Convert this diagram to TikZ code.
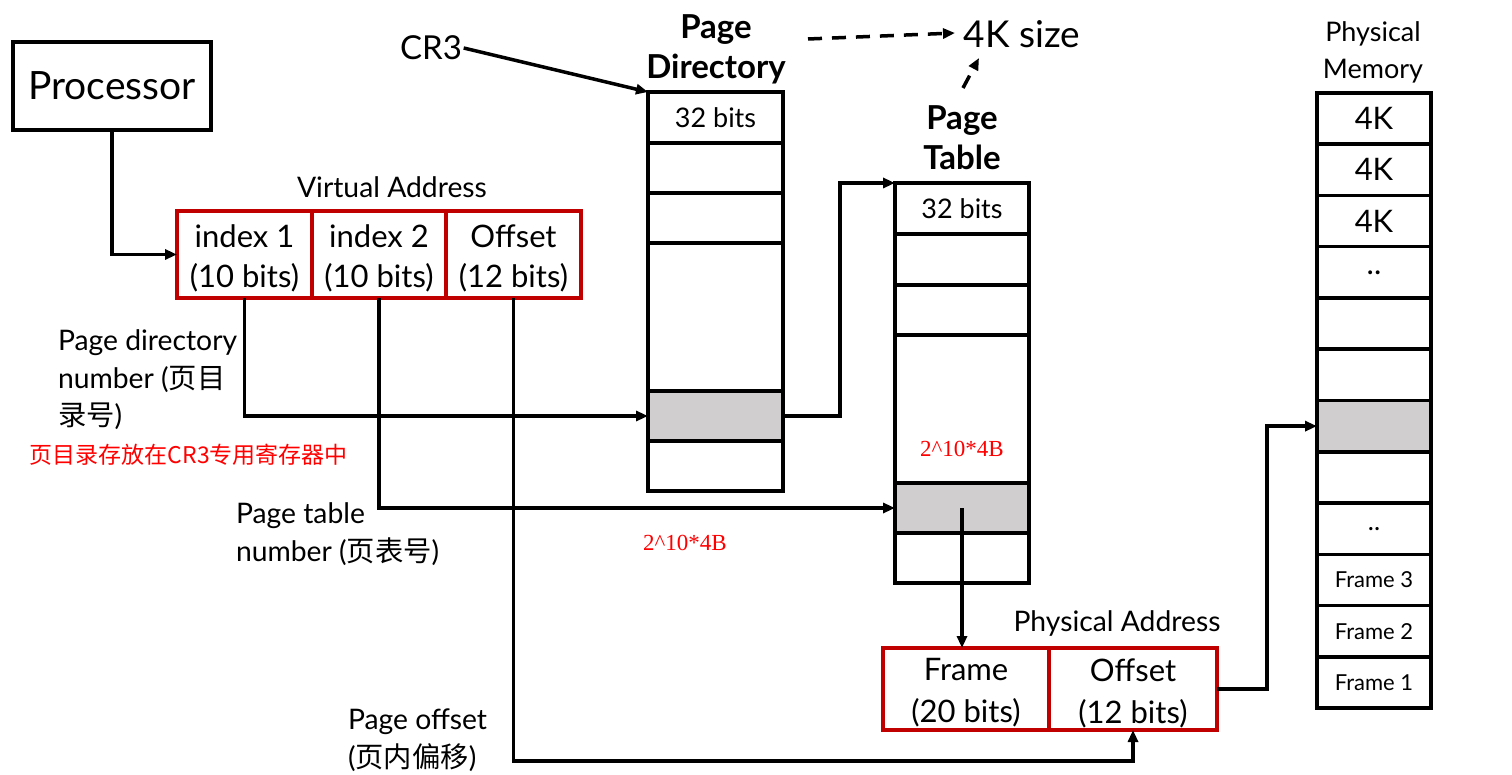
\documentclass[tikz,border=0pt]{standalone}
\usepackage{fontspec}
\setmainfont{Lato}
\newfontfamily\cjk{Noto Sans CJK SC}
\newfontfamily\serifred{Liberation Serif}
\usetikzlibrary{arrows.meta}
\definecolor{boxred}{RGB}{192,0,0}
\definecolor{cellgray}{RGB}{208,206,206}
\definecolor{notered}{RGB}{255,0,0}
\begin{document}
\begin{tikzpicture}[x=1pt,y=-1pt,
  line width=3.5pt,
  arr/.style={-{Triangle[length=12pt,width=10pt]}, line width=3.5pt},
  dasharr/.style={arr, dash pattern=on 14pt off 10pt},
  cell/.style={draw, line width=3.5pt, anchor=north west, inner sep=0pt, outer sep=0pt},
  pdcell/.style={cell, minimum width=135pt, font=\fontsize{27}{30}\selectfont},
  ptcell/.style={cell, minimum width=134pt, font=\fontsize{27}{30}\selectfont},
  pmcell/.style={cell, minimum width=114pt, minimum height=51.25pt, font=\fontsize{31}{34}\selectfont},
  frm/.style={font=\fontsize{22}{26}\selectfont},
  addr/.style={cell, draw=boxred, minimum height=87pt},
  addrtext/.style={inner sep=0pt, align=center, yshift=-4pt, font=\fontsize{31}{40}\selectfont},
  grayfill/.style={fill=cellgray},
  lbl/.style={inner sep=0pt, outer sep=0pt, font=\fontsize{28.3}{37.5}\selectfont},
  title/.style={inner sep=0pt, align=center, font=\bfseries\fontsize{33}{40}\selectfont},
  rednote/.style={inner sep=0pt, text=notered},
]
\useasboundingbox (0,0) rectangle (1512,775);

% Processor
\node[draw, line width=3.5pt, minimum width=198pt, minimum height=88pt, inner sep=0pt, outer sep=0pt,
  font=\fontsize{39}{42}\selectfont] (proc) at (112,86) {\raisebox{-2pt}{Processor}};

% Virtual address
\node[lbl] (vatitle) at (392,187) {Virtual Address};
\node[addr, minimum width=135pt] (va1) at (177,211) {};
\node[addr, minimum width=134pt] (va2) at (312,211) {};
\node[addr, minimum width=135pt] (va3) at (446,211) {};
\node[addrtext] (va1t) at (va1.center) {index 1\\(10 bits)};
\node[addrtext] (va2t) at (va2.center) {index 2\\(10 bits)};
\node[addrtext] (va3t) at (va3.center) {Offset\\(12 bits)};

% CR3
\node[inner sep=0pt, font=\fontsize{33}{36}\selectfont] (cr3) at (431,48) {CR3};

% Page directory
\node[title] (pdtitle) at (716,49) {Page\\Directory};
\node[pdcell, minimum height=51pt] (pd1) at (648,92) {32 bits};
\node[pdcell, minimum height=50pt] (pd2) at (648,143) {};
\node[pdcell, minimum height=50pt] (pd3) at (648,193) {};
\node[pdcell, minimum height=148pt] (pd4) at (648,243) {};
\node[pdcell, grayfill, minimum height=50pt] (pd5) at (648,391) {};
\node[pdcell, minimum height=50pt] (pd6) at (648,441) {};

% 4K size
\node[inner sep=0pt, font=\fontsize{37}{40}\selectfont] (ksize) at (1022,34) {4K size};
\coordinate (dA) at (808,39);
\coordinate (dB) at (955,33);
\coordinate (dC) at (963,88);
\coordinate (dD) at (979,58);

% Page table
\node[title] (pttitle) at (962,138) {Page\\Table};
\node[ptcell, minimum height=51pt] (pt1) at (895,183) {32 bits};
\node[ptcell, minimum height=51pt] (pt2) at (895,234) {};
\node[ptcell, minimum height=50pt] (pt3) at (895,285) {};
\node[ptcell, minimum height=148pt] (pt4) at (895,335) {};
\node[ptcell, grayfill, minimum height=50pt] (pt5) at (895,483) {};
\node[ptcell, minimum height=50pt] (pt6) at (895,533) {};

% Physical memory
\node[inner sep=0pt, align=center, font=\fontsize{27}{37}\selectfont] (pmtitle) at (1373,52) {Physical\\Memory};
\node[pmcell] (pm1) at (1317,93) {4K};
\node[pmcell] (pm2) at (1317,144.25) {4K};
\node[pmcell] (pm3) at (1317,195.5) {4K};
\node[pmcell] (pm4) at (1317,246.75) {..};
\node[pmcell] (pm5) at (1317,298) {};
\node[pmcell] (pm6) at (1317,349.25) {};
\node[pmcell, grayfill] (pm7) at (1317,400.5) {};
\node[pmcell] (pm8) at (1317,451.75) {};
\node[pmcell, font=\fontsize{26}{30}\selectfont] (pm9) at (1317,503) {..};
\node[pmcell, frm] (pm10) at (1317,554.25) {Frame 3};
\node[pmcell, frm] (pm11) at (1317,605.5) {Frame 2};
\node[pmcell, frm] (pm12) at (1317,656.75) {Frame 1};

% Physical address
\node[lbl] (patitle) at (1117,624) {Physical Address};
\node[addr, minimum width=166pt, minimum height=82pt] (pa1) at (883,648) {};
\node[addr, minimum width=168pt, minimum height=82pt] (pa2) at (1049,648) {};
\node[addrtext, font=\fontsize{31}{42}\selectfont] (pa1t) at (pa1.center) {Frame\\(20 bits)};
\node[addrtext, font=\fontsize{31}{42}\selectfont] (pa2t) at (pa2.center) {Offset\\(12 bits)};

% Labels
\node[lbl, align=left, anchor=west] (pdnum) at (58,380) {Page directory\\number ({\cjk 页目}\\{\cjk 录号})};
\node[rednote, anchor=west, font=\cjk\fontsize{23}{28}\selectfont] (cr3note) at (28,455) {页目录存放在CR3专用寄存器中};
\node[lbl, align=left, anchor=west] (ptnum) at (236,534) {Page table\\number ({\cjk 页表号})};
\node[lbl, align=left, anchor=west] (poff) at (348,740) {Page offset\\({\cjk 页内偏移})};
\node[rednote, font=\serifred\fontsize{23}{26}\selectfont] (sz1) at (685,543) {2\textasciicircum10*4B};
\node[rednote, font=\serifred\fontsize{23}{26}\selectfont] (sz2) at (962,449) {2\textasciicircum10*4B};

% Connectors
\draw[arr] (proc.south) |- (va1.west);
\draw[arr] (cr3.east) -- (pd1.north west);
\draw[arr] (va1.south) |- (pd5.west);
\draw[arr] (va2.south) |- (pt5.west);
\draw[arr] (va3.south) -- ++(0,463) -| (pa2.south);
\draw[arr] (pd5.east) -- ++(57,0) |- (pt1.north west);
\draw[arr] (pt5.center) -- (pt5.center |- pa1.north);
\draw[arr] (pa2.east) -- ++(50,0) |- (pm7.west);
\draw[dasharr] (dA) -- (dB);
\draw[dasharr] (dC) -- (dD);
\end{tikzpicture}
\end{document}
